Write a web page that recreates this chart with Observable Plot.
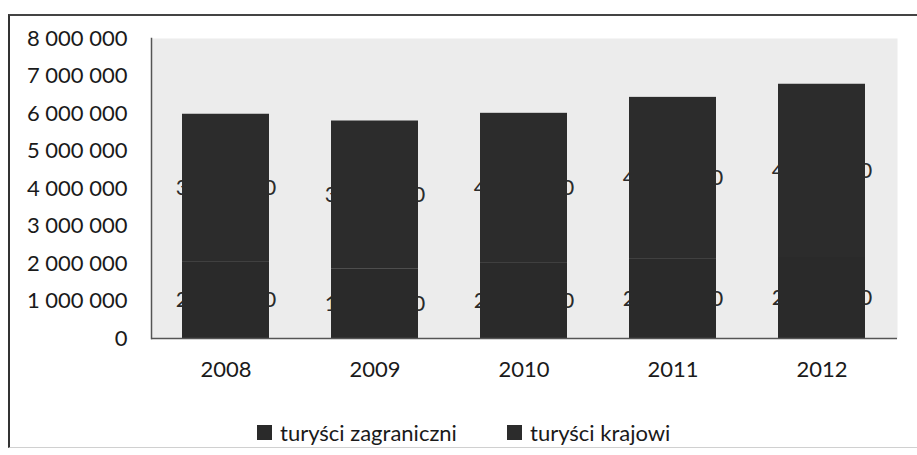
<!DOCTYPE html>
<html>
<head>
<meta charset="utf-8">
<script src="https://cdn.jsdelivr.net/npm/d3@7"></script>
<script src="https://cdn.jsdelivr.net/npm/@observablehq/plot@0.6"></script>
<style>
  html, body { margin: 0; padding: 0; background: #fff; }
  #wrap { position: relative; width: 917px; height: 455px; overflow: hidden; font-family: Lato, "Noto Sans", sans-serif; }
  #border { position: absolute; left: 8px; top: 14px; width: 930px; height: 434px; border-left: 2px solid #333; border-top: 2px solid #444; border-bottom: 1px solid #d0d0d0; box-sizing: border-box; }
  #chart { position: absolute; left: 0; top: 0; }
  #legend { position: absolute; top: 419px; left: 0; width: 917px; font-size: 22px; color: #1a1a1a; }
  .li { position: absolute; top: 0; white-space: nowrap; display: flex; align-items: center; }
  .sw { display: inline-block; width: 15px; height: 15px; margin-right: 8px; }
</style>
</head>
<body>
<div id="wrap">
  <div id="border"></div>
  <div id="chart"></div>
  <div id="legend"></div>
</div>
<script>
const years = ["2008", "2009", "2010", "2011", "2012"];
const seriesNames = ["turyści zagraniczni", "turyści krajowi"];
const zagraniczni = [2030000, 1860000, 2003000, 2110000, 2160000];
const krajowi = [3950000, 3940000, 4002000, 4320000, 4620000];
const yTicks = [0, 1000000, 2000000, 3000000, 4000000, 5000000, 6000000, 7000000, 8000000];
const colors = ["#2a2a2a", "#2c2c2c"];

const data = [];
years.forEach((y, i) => {
  data.push({year: y, series: seriesNames[0], value: zagraniczni[i]});
  data.push({year: y, series: seriesNames[1], value: krajowi[i]});
});

const fmt = v => d3.format(",")(v).replace(/,/g, " ");
const font = "Lato, 'Noto Sans', sans-serif";

const plot = Plot.plot({
  width: 917,
  height: 392,
  marginLeft: 151,
  marginRight: 20,
  marginTop: 38,
  marginBottom: 54,
  style: {fontFamily: font, fontSize: "22px", color: "#1a1a1a", background: "transparent"},
  x: {domain: years, paddingInner: 0.415, paddingOuter: 0.2075, label: null},
  y: {domain: [0, 8000000], label: null},
  color: {domain: seriesNames, range: colors},
  marks: [
    Plot.frame({fill: "#ececec", stroke: null}),
    Plot.barY(data, Plot.stackY({x: "year", y: "value", fill: "series", order: seriesNames})),
    Plot.text(data, Plot.stackY({x: "year", y: "value", z: "series", order: seriesNames, text: d => fmt(d.value), fill: "series", fontSize: 22})),
    Plot.frame({anchor: "left", stroke: "#555", strokeWidth: 1.5}),
    Plot.ruleY([0], {stroke: "#555", strokeWidth: 1.5}),
    Plot.axisY({ticks: yTicks, tickFormat: fmt, tickSize: 0, tickPadding: 24, fontSize: 22, label: null}),
    Plot.axisX({tickSize: 0, tickPadding: 23, fontSize: 22, label: null})
  ]
});
document.getElementById("chart").appendChild(plot);

const legend = document.getElementById("legend");
const legendX = [257, 507];
seriesNames.forEach((name, i) => {
  const item = document.createElement("div");
  item.className = "li";
  item.style.left = legendX[i] + "px";
  const sw = document.createElement("span");
  sw.className = "sw";
  sw.style.background = colors[i];
  item.appendChild(sw);
  item.appendChild(document.createTextNode(name));
  legend.appendChild(item);
});
</script>
</body>
</html>
